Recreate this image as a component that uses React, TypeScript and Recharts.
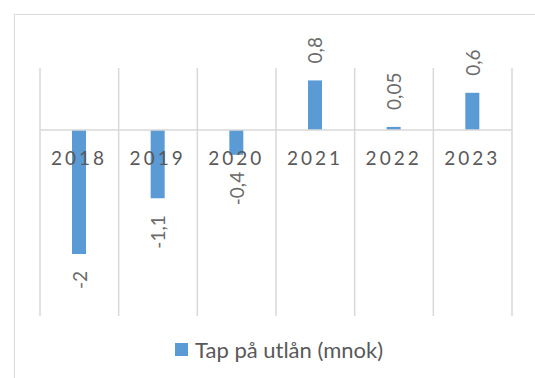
import React from "react";
import { BarChart, Bar, XAxis, YAxis, CartesianGrid, ReferenceLine, LabelList } from "recharts";

const categories = ["2018", "2019", "2020", "2021", "2022", "2023"];
const lossValues = [-2, -1.1, -0.4, 0.8, 0.05, 0.6];
const seriesName = "Tap på utlån (mnok)";
const yDomain = [-3, 1];

const data = categories.map((year, i) => ({ year, value: lossValues[i] }));

const FONT = "Lato, 'Open Sans', sans-serif";
const BAR_COLOR = "#5b9bd5";
const GRID_COLOR = "#d9d9d9";
const TEXT_COLOR = "#595959";

const fmt = (v: number) => String(v).replace(".", ",");

const ValueLabel = (props: any) => {
  const { x, y, width, height, value } = props;
  const top = Math.min(y, y + height);
  const bottom = Math.max(y, y + height);
  const cx = x + width / 2;
  if (value >= 0) {
    const ly = top - 17;
    return (
      <text x={cx} y={ly} transform={`rotate(-90 ${cx} ${ly})`} textAnchor="start" dominantBaseline="central"
        fill="#6b6b6b" fontSize={19} fontFamily={FONT}>{fmt(value)}</text>
    );
  }
  const ly = bottom + 17;
  return (
    <text x={cx} y={ly} transform={`rotate(-90 ${cx} ${ly})`} textAnchor="end" dominantBaseline="central"
      fill="#6b6b6b" fontSize={19} fontFamily={FONT}>{fmt(value)}</text>
  );
};

const CategoryLabel = (props: any) => {
  const { x, y, width, height, value, index } = props;
  const v = lossValues[index];
  const top = Math.min(y, y + height);
  const bottom = Math.max(y, y + height);
  const zeroY = v >= 0 ? bottom : top;
  return (
    <text x={x + width / 2} y={zeroY + 27} textAnchor="middle" dominantBaseline="central"
      fill={TEXT_COLOR} fontSize={19} fontFamily={FONT} letterSpacing={3}>{value}</text>
  );
};

export default function App() {
  return (
    <div style={{ position: "absolute", left: 0, top: 0, width: 535, height: 378, overflow: "hidden", background: "#fff" }}>
      <div style={{ position: "absolute", left: 14, top: 14, width: 600, height: 500, border: `1.5px solid ${GRID_COLOR}` }} />
      <div style={{ position: "absolute", left: 0, top: 0 }}>
        <BarChart width={535} height={378} data={data} margin={{ top: 68, right: 23, bottom: 62, left: 40 }}>
          <CartesianGrid horizontal={false} stroke={GRID_COLOR} strokeWidth={1.5}
            verticalCoordinatesGenerator={({ offset }: any) =>
              categories.map((_, i) => offset.left + (i * offset.width) / categories.length).concat([offset.left + offset.width])
            } />
          <XAxis dataKey="year" hide height={0} />
          <YAxis hide domain={yDomain} width={0} />
          <ReferenceLine y={0} stroke={GRID_COLOR} strokeWidth={1.5} />
          <Bar dataKey="value" name={seriesName} fill={BAR_COLOR} barSize={14} isAnimationActive={false}>
            <LabelList dataKey="value" content={ValueLabel} />
            <LabelList dataKey="year" content={CategoryLabel} />
          </Bar>
        </BarChart>
      </div>
      <div style={{ position: "absolute", left: 175, top: 336, display: "flex", alignItems: "center", whiteSpace: "nowrap", fontFamily: FONT, fontSize: 22, color: TEXT_COLOR }}>
        <span style={{ display: "inline-block", width: 13, height: 13, background: BAR_COLOR, marginRight: 7 }} />
        <span>{seriesName}</span>
      </div>
    </div>
  );
}
